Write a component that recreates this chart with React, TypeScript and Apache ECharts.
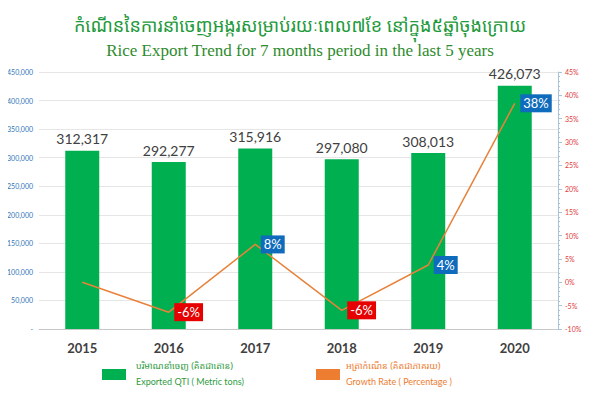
import React, { useEffect, useRef } from "react";
import * as echarts from "echarts";

const years = ["2015", "2016", "2017", "2018", "2019", "2020"];
const exported = [312317, 292277, 315916, 297080, 308013, 426073];
const growth = [0, -6.4, 8.1, -6.0, 3.7, 38.3];
const growthLabels = ["", "-6%", "8%", "-6%", "4%", "38%"];
const titleKh = "កំណើននៃការនាំចេញអង្ករសម្រាប់រយៈពេល៧ខែ នៅក្នុង៥ឆ្នាំចុងក្រោយ";
const titleEn = "Rice Export Trend for 7 months period in the last 5 years";
const legendBarKh = "បរិមាណនាំចេញ (គិតជាតោន)";
const legendBarEn = "Exported QTI ( Metric tons)";
const legendLineKh = "អត្រាកំណើន (គិតជាភាគរយ)";
const legendLineEn = "Growth Rate ( Percentage )";

export default function App() {
  const ref = useRef<HTMLDivElement>(null);
  useEffect(() => {
    const chart = echarts.init(ref.current!, null, { renderer: "svg" });
    const khFont = "'Noto Sans Khmer', 'Khmer OS', 'Noto Sans', sans-serif";
    chart.setOption({
      animation: false,
      backgroundColor: "#ffffff",
      title: [
        {
          text: titleKh,
          left: "center",
          top: 11,
          textStyle: { fontFamily: khFont, fontSize: 18, fontWeight: "normal", color: "#1f9a3c" },
        },
        {
          text: titleEn,
          left: "center",
          top: 37,
          textStyle: { fontFamily: "'Liberation Serif', serif", fontSize: 17, fontWeight: "normal", color: "#2e8b2e" },
        },
      ],
      grid: { left: 39, right: 42, top: 72, bottom: 77 },
      xAxis: {
        type: "category",
        data: years,
        axisLine: { lineStyle: { color: "#c8c8c8" } },
        axisTick: { show: false },
        axisLabel: { color: "#404040", fontFamily: "Lato, sans-serif", fontWeight: "bold", fontSize: 13, margin: 12 },
      },
      yAxis: [
        {
          type: "value",
          min: 0,
          max: 450000,
          interval: 50000,
          axisLine: { show: false },
          axisTick: { show: false },
          splitLine: { lineStyle: { color: "#e6e6e6" } },
          axisLabel: {
            color: "#2e75b6",
            fontSize: 7,
            fontFamily: "Lato, sans-serif",
            margin: 6,
            formatter: (v: number) => (v === 0 ? "-" : v.toLocaleString("en-US")),
          },
        },
        {
          type: "value",
          min: -10,
          max: 45,
          interval: 5,
          axisLine: { show: true, lineStyle: { color: "#a9c4d8" } },
          axisTick: { show: true, length: 4, lineStyle: { color: "#a9c4d8" } },
          minorTick: { show: true, splitNumber: 5, length: 2, lineStyle: { color: "#a9c4d8" } },
          splitLine: { show: false },
          axisLabel: {
            color: "#e03a3a",
            fontSize: 7,
            fontFamily: "Lato, sans-serif",
            margin: 7,
            formatter: (v: number) => v + "%",
          },
        },
      ],
      series: [
        {
          type: "bar",
          data: exported,
          barWidth: 34,
          itemStyle: { color: "#00b050" },
          label: {
            show: true,
            position: "top",
            distance: 5,
            color: "#404040",
            fontSize: 14,
            fontFamily: "Lato, sans-serif",
            formatter: (p: any) => Number(p.value).toLocaleString("en-US"),
          },
          z: 2,
        },
        {
          type: "line",
          yAxisIndex: 1,
          data: growth.map((v, i) => ({
            value: v,
            label: {
              show: growthLabels[i] !== "",
              backgroundColor: v < 0 ? "#e60000" : "#0f6cbd",
            },
          })),
          symbol: "circle",
          symbolSize: 1,
          showSymbol: true,
          itemStyle: { color: "rgba(0,0,0,0)" },
          lineStyle: { color: "#e8823a", width: 1.5 },
          label: {
            show: true,
            position: "right",
            distance: 5,
            color: "#ffffff",
            fontSize: 13,
            fontFamily: "Lato, sans-serif",
            padding: [3, 3, 2, 3],
            formatter: (p: any) => growthLabels[p.dataIndex],
          },
          z: 3,
        },
      ],
      graphic: [
        { type: "rect", left: 102, top: 369, shape: { width: 24, height: 11 }, style: { fill: "#00b050" } },
        { type: "text", left: 136, top: 361, style: { text: legendBarKh, fill: "#2e9b3e", fontSize: 9, fontFamily: khFont } },
        { type: "text", left: 136, top: 377, style: { text: legendBarEn, fill: "#2e9b3e", fontSize: 9, fontFamily: "Lato, sans-serif" } },
        { type: "rect", left: 316, top: 369, shape: { width: 24, height: 11 }, style: { fill: "#ed7d31" } },
        { type: "text", left: 346, top: 361, style: { text: legendLineKh, fill: "#ed7d31", fontSize: 9, fontFamily: khFont } },
        { type: "text", left: 346, top: 377, style: { text: legendLineEn, fill: "#ed7d31", fontSize: 9, fontFamily: "Lato, sans-serif" } },
      ],
    });
    return () => chart.dispose();
  }, []);
  return <div ref={ref} style={{ width: 600, height: 406, margin: -8 }} />;
}
